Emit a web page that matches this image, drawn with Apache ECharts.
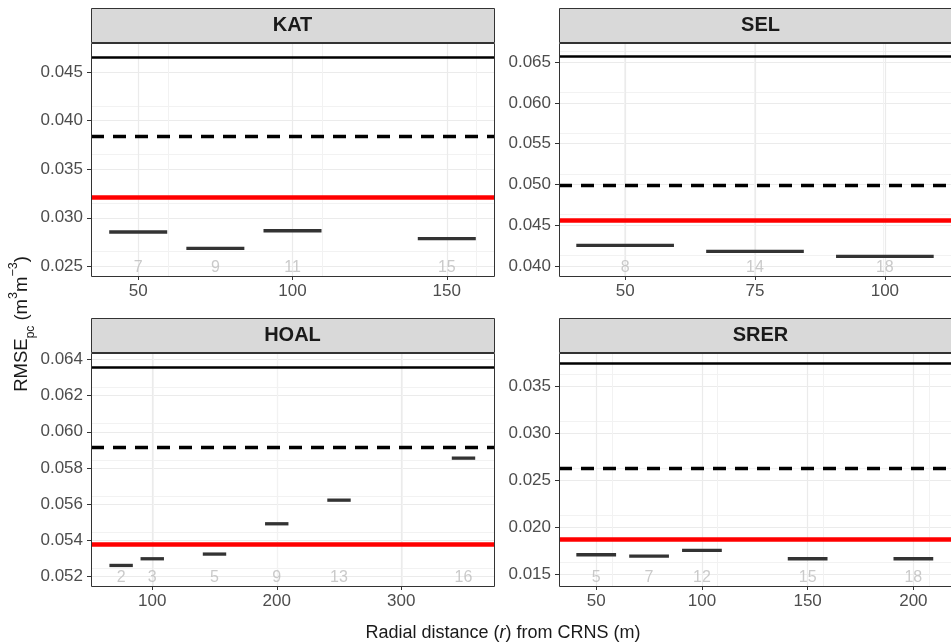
<!DOCTYPE html>
<html><head><meta charset="utf-8">
<script src="https://cdn.jsdelivr.net/npm/echarts@6/dist/echarts.min.js"></script>
<style>html,body{margin:0;padding:0;background:#fff}#c{width:951px;height:643px}</style>
</head><body><div id="c"></div><script>
const FONT = '"Liberation Sans", Arial, sans-serif';

// ---- KAT ----
const katX = [50, 75, 100, 150];
const katRmse = [0.02853, 0.02684, 0.02866, 0.02784];
const katN = [7, 9, 11, 15];
const katRef = [0.0465, 0.03842, 0.0321];      // solid black, dashed black, red
const katXRange = [34.7, 165.3];
const katYRange = [0.0240, 0.0480];
const katXTicks = [50, 100, 150];
const katYTicks = [0.025, 0.030, 0.035, 0.040, 0.045];
const katXStep = 50, katYStep = 0.005;

// ---- SEL ----
const selX = [50, 75, 100];
const selRmse = [0.04255, 0.04182, 0.04121];
const selN = [8, 14, 18];
const selRef = [0.06573, 0.04988, 0.04561];
const selXRange = [37.27, 112.73];
const selYRange = [0.03881, 0.06732];
const selXTicks = [50, 75, 100];
const selYTicks = [0.040, 0.045, 0.050, 0.055, 0.060, 0.065];
const selXStep = 25, selYStep = 0.005;

// ---- HOAL ----
const hoalX = [75, 100, 150, 200, 250, 350];
const hoalRmse = [0.05259, 0.05296, 0.05322, 0.05490, 0.05621, 0.05854];
const hoalN = [2, 3, 5, 9, 13, 16];
const hoalRef = [0.06357, 0.05915, 0.05376];
const hoalXRange = [50.8, 374.5];
const hoalYRange = [0.05145, 0.06437];
const hoalXTicks = [100, 200, 300];
const hoalYTicks = [0.052, 0.054, 0.056, 0.058, 0.060, 0.062, 0.064];
const hoalXStep = 100, hoalYStep = 0.002;

// ---- SRER ----
const srerX = [50, 75, 100, 150, 200];
const srerRmse = [0.01709, 0.01695, 0.01755, 0.01666, 0.01666];
const srerN = [5, 7, 12, 15, 18];
const srerRef = [0.03748, 0.02631, 0.01876];
const srerXRange = [32.4, 217.8];
const srerYRange = [0.01376, 0.03857];
const srerXTicks = [50, 100, 150, 200];
const srerYTicks = [0.015, 0.020, 0.025, 0.030, 0.035];
const srerXStep = 50, srerYStep = 0.005;

const segHalfWidth = 9.4;

const panels = [
  {name:'KAT', x:katX, y:katRmse, n:katN, ref:katRef, xr:katXRange, yr:katYRange, xt:katXTicks, yt:katYTicks, xs:katXStep, ys:katYStep},
  {name:'SEL', x:selX, y:selRmse, n:selN, ref:selRef, xr:selXRange, yr:selYRange, xt:selXTicks, yt:selYTicks, xs:selXStep, ys:selYStep},
  {name:'HOAL', x:hoalX, y:hoalRmse, n:hoalN, ref:hoalRef, xr:hoalXRange, yr:hoalYRange, xt:hoalXTicks, yt:hoalYTicks, xs:hoalXStep, ys:hoalYStep},
  {name:'SRER', x:srerX, y:srerRmse, n:srerN, ref:srerRef, xr:srerXRange, yr:srerYRange, xt:srerXTicks, yt:srerYTicks, xs:srerXStep, ys:srerYStep}
];

// layout: [left, top, width, height]
const layouts = [[91, 43, 403, 233], [559, 43, 403, 233], [91, 353, 403, 233], [559, 353, 403, 233]];

const chart = echarts.init(document.getElementById('c'), null, {renderer: 'canvas'});

const gridLine = {show: true, lineStyle: {color: '#EBEBEB', width: 1.2}};
const minorGridLine = {show: true, lineStyle: {color: '#F2F2F2', width: 1}};

const grids = layouts.map(l => ({left: l[0], top: l[1], width: l[2], height: l[3], show: false}));

const xAxes = panels.map((p, i) => ({
  gridIndex: i, type: 'value', min: p.xr[0], max: p.xr[1], interval: p.xs,
  axisLine: {show: false},
  axisTick: {show: true, length: 4, lineStyle: {color: '#333333', width: 1}, customValues: p.xt},
  axisLabel: {show: true, color: '#4D4D4D', fontSize: 17, fontFamily: FONT, margin: 7, customValues: p.xt,
              formatter: v => String(Math.round(v))},
  splitLine: gridLine,
  minorTick: {show: false, splitNumber: 2},
  minorSplitLine: minorGridLine
}));

const yAxes = panels.map((p, i) => ({
  gridIndex: i, type: 'value', min: p.yr[0], max: p.yr[1], interval: p.ys,
  axisLine: {show: false},
  axisTick: {show: true, length: 4, lineStyle: {color: '#333333', width: 1}, customValues: p.yt},
  axisLabel: {show: true, color: '#4D4D4D', fontSize: 17, fontFamily: FONT, margin: 8, customValues: p.yt,
              formatter: v => v.toFixed(3)},
  splitLine: gridLine,
  minorTick: {show: false, splitNumber: 2},
  minorSplitLine: minorGridLine
}));

function segRender(params, api) {
  const x = api.value(0), y = api.value(1);
  const p1 = api.coord([x - segHalfWidth, y]);
  const p2 = api.coord([x + segHalfWidth, y]);
  return {type: 'line', shape: {x1: p1[0], y1: p1[1], x2: p2[0], y2: p2[1]},
          style: {stroke: '#333333', lineWidth: 3.3, lineCap: 'butt'}};
}

const series = [];
panels.forEach((p, i) => {
  series.push({
    type: 'custom', xAxisIndex: i, yAxisIndex: i, renderItem: segRender, clip: false,
    data: p.x.map((x, k) => [x, p.y[k]]),
    z: 3,
    markLine: {
      silent: true, symbol: ['none', 'none'], label: {show: false}, animation: false, precision: 8,
      data: [
        {yAxis: p.ref[0], lineStyle: {color: '#000000', width: 2.6, type: 'solid', opacity: 1}},
        {yAxis: p.ref[1], lineStyle: {color: '#000000', width: 3.3, type: [13, 9], opacity: 1}},
        {yAxis: p.ref[2], lineStyle: {color: '#FF0000', width: 4.5, type: 'solid', opacity: 1}}
      ]
    }
  });
  series.push({
    type: 'scatter', xAxisIndex: i, yAxisIndex: i, symbolSize: 0, clip: false, silent: true,
    data: p.x.map((x, k) => [x, p.yr[0], p.n[k]]),
    label: {show: true, position: 'top', distance: 0, formatter: d => String(d.value[2]),
            color: '#BDBDBD', fontSize: 16, fontFamily: FONT},
    z: 4
  });
});

const graphics = [];
panels.forEach((p, i) => {
  const l = layouts[i];
  // strip
  graphics.push({type: 'rect', shape: {x: l[0] + 0.5, y: l[1] - 35 + 0.5, width: l[2], height: 34},
                 style: {fill: '#D9D9D9', stroke: '#333333', lineWidth: 1}, z: 100, silent: true});
  graphics.push({type: 'text', x: l[0] + l[2] / 2, y: l[1] - 18,
                 style: {text: p.name, fontSize: 20, fontWeight: 'bold', fontFamily: FONT, fill: '#1A1A1A',
                         align: 'center', verticalAlign: 'middle'}, z: 101, silent: true});
  // panel border
  graphics.push({type: 'rect', shape: {x: l[0] + 0.5, y: l[1] + 0.5, width: l[2], height: l[3]},
                 style: {fill: 'none', stroke: '#333333', lineWidth: 1}, z: 100, silent: true});
});

// axis titles
graphics.push({
  type: 'text', x: 503, y: 633, silent: true, z: 100,
  style: {
    text: 'Radial distance ({i|r}) from CRNS (m)',
    fontSize: 18, fontFamily: FONT, fill: '#1A1A1A', align: 'center', verticalAlign: 'middle',
    rich: {i: {fontSize: 18, fontFamily: FONT, fontStyle: 'italic', fill: '#1A1A1A', color: '#1A1A1A'}}
  }
});
graphics.push({
  type: 'text', x: 22, y: 324, rotation: Math.PI / 2, silent: true, z: 100,
  style: {
    text: '{b|RMSE}{sub|pc}{b| (m}{sup|3}{b|m}{sup|\u22123}{b|)}',
    fontSize: 18, fontFamily: FONT, fill: '#1A1A1A', align: 'center', verticalAlign: 'middle',
    rich: {
      b: {fontSize: 18.5, fontFamily: FONT, fill: '#1A1A1A', color: '#1A1A1A', lineHeight: 30, verticalAlign: 'middle'},
      sub: {fontSize: 12, fontFamily: FONT, fill: '#1A1A1A', color: '#1A1A1A', lineHeight: 22, verticalAlign: 'bottom'},
      sup: {fontSize: 12.5, fontFamily: FONT, fill: '#1A1A1A', color: '#1A1A1A', lineHeight: 14, verticalAlign: 'top'}
    }
  }
});

chart.setOption({
  animation: false,
  backgroundColor: '#FFFFFF',
  grid: grids,
  xAxis: xAxes,
  yAxis: yAxes,
  series: series,
  graphic: graphics
});
</script></body></html>
